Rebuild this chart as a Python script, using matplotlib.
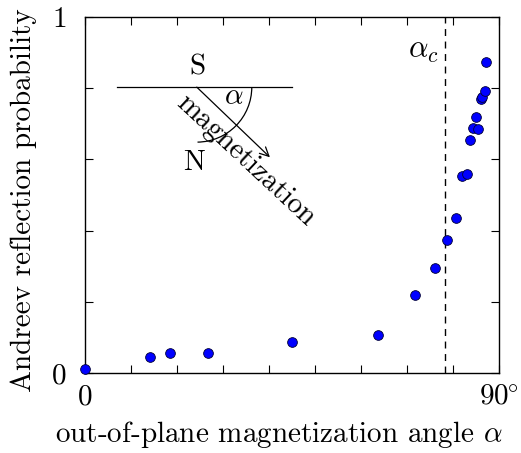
import numpy as np
import matplotlib.pyplot as plt
from matplotlib.patches import Arc

plt.rcParams['font.family'] = 'serif'
plt.rcParams['font.serif'] = ['cmr10']
plt.rcParams['mathtext.fontset'] = 'cm'
plt.rcParams['axes.unicode_minus'] = False

# measured angles (deg) and Andreev reflection probability
angle = [0.0, 14.1, 18.5, 26.7, 45.1, 63.6, 71.8, 76.1, 78.8, 80.7,
         82.0, 83.0, 83.7, 84.3, 85.4, 84.9, 86.0, 86.4, 86.9, 87.2]
prob = [0.011, 0.044, 0.055, 0.055, 0.086, 0.107, 0.220, 0.296, 0.375, 0.436,
        0.554, 0.560, 0.654, 0.689, 0.686, 0.718, 0.769, 0.776, 0.793, 0.875]
alpha_c = 78.3

xticks = np.arange(0, 91, 10)
yticks = np.arange(0, 1.01, 0.2)

fs = 21

fig = plt.figure(figsize=(5.21, 4.53), dpi=100)
ax = fig.add_axes([85/521, 1 - 373/453, 414/521, 356/453])

ax.plot(angle, prob, 'o', color='blue', markeredgecolor='#000033',
        markeredgewidth=0.6, markersize=7, clip_on=False, zorder=3)
ax.axvline(alpha_c, color='black', linestyle=(0, (5, 4)), linewidth=1)
ax.text(alpha_c - 1.3, 0.905, r'$\alpha_c$', ha='right', va='center', fontsize=22)

ax.set_xlim(0, 90)
ax.set_ylim(0, 1)
ax.set_xticks(xticks)
ax.set_xticklabels(['0'] + [''] * 8 + [r'$90^{\!\!\circ}$'])
ax.set_yticks(yticks)
ax.set_yticklabels(['0', '', '', '', '', '1'])
ax.tick_params(direction='in', length=6, width=0.8, top=True, right=True,
               labelsize=fs, pad=8)
ax.tick_params(axis='y', pad=13)
for s in ax.spines.values():
    s.set_linewidth(1)

ax.set_xlabel(r'out-of-plane magnetization angle $\alpha$', fontsize=fs)
ax.xaxis.set_label_coords(0.469, -0.13)
ax.set_ylabel('Andreev reflection probability', fontsize=fs)
ax.yaxis.set_label_coords(-0.116, 0.486)

# inset sketch: interface and magnetization direction
y0 = 0.803
x0 = 24.3
ax.plot([7, 45], [y0, y0], color='black', linewidth=0.9)
ax.annotate('', xy=(40.2, 0.606), xytext=(x0, y0),
            arrowprops=dict(arrowstyle='->', color='black', lw=0.9,
                            shrinkA=0, shrinkB=0, mutation_scale=16))
ax.add_patch(Arc((x0, y0), 2 * 55 / 4.6, 2 * 55 / 356, theta1=-44, theta2=0,
                 color='black', linewidth=0.9))
ax.text(32.3, 0.775, r'$\alpha$', ha='center', va='center', fontsize=fs)
ax.text(24.4, 0.858, 'S', ha='center', va='center', fontsize=fs)
ax.text(23.8, 0.59, 'N', ha='center', va='center', fontsize=fs)
ax.text(35.0, 0.597, 'magnetization', ha='center', va='center', fontsize=fs,
        rotation=-43, rotation_mode='anchor')

fig.savefig('out.png', dpi=100)
